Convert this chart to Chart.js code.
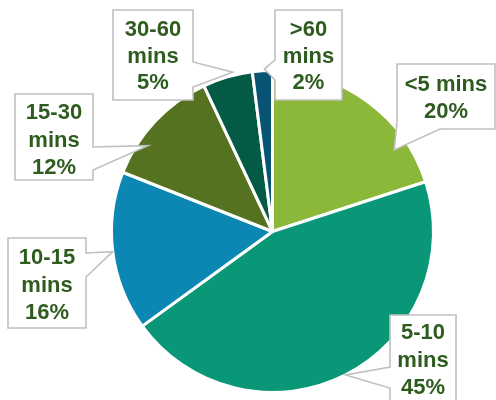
<!DOCTYPE html>
<html>
<head>
<meta charset="utf-8">
<script src="https://cdn.jsdelivr.net/npm/chart.js@4/dist/chart.umd.min.js"></script>
<style>
  html, body { margin: 0; padding: 0; background: #ffffff; }
  #wrap { width: 496px; height: 400px; position: relative; }
</style>
</head>
<body>
<div id="wrap"><canvas id="c" width="496" height="400"></canvas></div>
<script>
// Commute time shares
const categories = ['<5 mins', '5-10 mins', '10-15 mins', '15-30 mins', '30-60 mins', '>60 mins'];
const shares = [20, 45, 16, 12, 5, 2];
const sliceColors = ['#8cb83a', '#0a9777', '#0c87b3', '#557220', '#045b45', '#0a5473'];

// Callout layout: box [x, y, w, h], tail attach points on the box edge,
// tip position along the slice (t = fraction of the sweep, k = fraction of the radius),
// and whether the category is broken onto two lines.
const calloutLayout = [
  { box: [397, 64, 98, 65],  attach: [[440, 129], [397, 122]], t: 0.78, k: 0.91, split: false, lineY: [85, 112] },
  { box: [390, 315, 66, 95], attach: [[390, 388], [390, 367]], t: 0.5,  k: 1.0,  split: true,  lineY: [333, 361, 388] },
  { box: [8, 238, 78, 90],   attach: [[86, 253], [86, 277]],   t: 0.5,  k: 1.0,  split: true,  lineY: [258, 286, 313] },
  { box: [15, 94, 78, 86],   attach: [[93, 147], [93, 170]],   t: 0.3,  k: 0.94, split: true,  lineY: [113, 141, 168] },
  { box: [113, 10, 80, 90],  attach: [[193, 62], [193, 87]],   t: 0.62, k: 1.02, split: true,  lineY: [30, 57, 83] },
  { box: [275, 10, 67, 90],  attach: [[275, 80], [275, 60]],   t: 0.6,  k: 1.01, split: true,  lineY: [30, 57, 83] }
];

function perimeterPos(box, p) {
  const [x, y, w, h] = box;
  const eps = 0.6;
  if (Math.abs(p[1] - y) < eps) return p[0] - x;                 // top, left→right
  if (Math.abs(p[0] - (x + w)) < eps) return w + (p[1] - y);      // right, top→bottom
  if (Math.abs(p[1] - (y + h)) < eps) return w + h + (x + w - p[0]); // bottom, right→left
  return 2 * w + h + (y + h - p[1]);                              // left, bottom→top
}

function calloutPath(ctx, box, attach, tip) {
  const [x, y, w, h] = box;
  const corners = [[x, y, 0], [x + w, y, w], [x + w, y + h, w + h], [x, y + h, 2 * w + h]];
  let a = attach[0], b = attach[1];
  let sa = perimeterPos(box, a), sb = perimeterPos(box, b);
  if (sa > sb) { [a, b] = [b, a]; [sa, sb] = [sb, sa]; }
  const pts = [];
  corners.forEach(c => { if (c[2] < sa) pts.push([c[0], c[1]]); });
  pts.push(a, tip, b);
  corners.forEach(c => { if (c[2] > sb) pts.push([c[0], c[1]]); });
  ctx.beginPath();
  ctx.moveTo(pts[0][0], pts[0][1]);
  for (let i = 1; i < pts.length; i++) ctx.lineTo(pts[i][0], pts[i][1]);
  ctx.closePath();
}

const calloutPlugin = {
  id: 'callouts',
  afterDatasetsDraw(chart) {
    const ctx = chart.ctx;
    const meta = chart.getDatasetMeta(0);
    const total = shares.reduce((s, v) => s + v, 0);
    meta.data.forEach((arc, i) => {
      const lay = calloutLayout[i];
      const p = arc.getProps(['x', 'y', 'startAngle', 'endAngle', 'outerRadius'], true);
      const ang = p.startAngle + lay.t * (p.endAngle - p.startAngle);
      const r = p.outerRadius * lay.k;
      const tip = [p.x + r * Math.cos(ang), p.y + r * Math.sin(ang)];

      ctx.save();
      calloutPath(ctx, lay.box, lay.attach, tip);
      ctx.fillStyle = '#ffffff';
      ctx.fill();
      ctx.lineWidth = 1.6;
      ctx.strokeStyle = '#c0c0c0';
      ctx.lineJoin = 'miter';
      ctx.stroke();

      const pct = Math.round(shares[i] / total * 100) + '%';
      const name = categories[i];
      const lines = lay.split ? name.split(' ').concat([pct]) : [name, pct];
      ctx.fillStyle = '#2e5c1f';
      ctx.font = 'bold 22px "Liberation Sans", Arial, sans-serif';
      ctx.textAlign = 'center';
      ctx.textBaseline = 'middle';
      const cx = lay.box[0] + lay.box[2] / 2;
      lines.forEach((txt, j) => ctx.fillText(txt, cx, lay.lineY[j]));
      ctx.restore();
    });
  }
};

new Chart(document.getElementById('c'), {
  type: 'pie',
  data: {
    labels: categories,
    datasets: [{
      data: shares,
      backgroundColor: sliceColors,
      borderColor: '#ffffff',
      borderWidth: 3
    }]
  },
  options: {
    responsive: false,
    animation: false,
    events: [],
    layout: { padding: { left: 110, right: 61, top: 69, bottom: 6 } },
    plugins: {
      legend: { display: false },
      tooltip: { enabled: false }
    }
  },
  plugins: [calloutPlugin]
});
</script>
</body>
</html>
